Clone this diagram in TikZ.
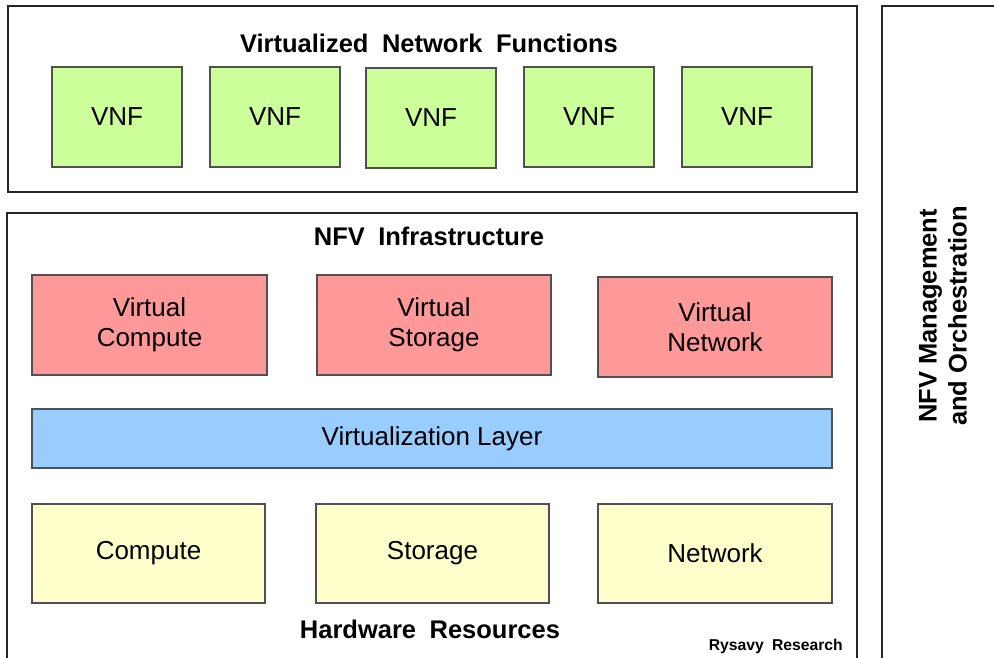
\documentclass[tikz,border=0pt]{standalone}
\usepackage{fontspec}
\setmainfont{Liberation Sans}
\newfontfamily\headfont[WordSpace=1.9]{Liberation Sans}
\usepackage{tikz}
\usetikzlibrary{calc}
\definecolor{vnfgreen}{HTML}{CCFF99}
\definecolor{virtred}{HTML}{FF9999}
\definecolor{layerblue}{HTML}{99CCFF}
\definecolor{hwyellow}{HTML}{FFFFCC}
\definecolor{edgegray}{HTML}{505050}
\tikzset{
  frame/.style={draw=black!85,line width=2.6pt},
  block/.style={draw=edgegray,line width=1.3pt,align=center,inner sep=0pt,
    font=\fontsize{26}{30}\selectfont},
  heading/.style={font=\headfont\bfseries\fontsize{25.5}{30}\selectfont,inner sep=0pt}
}
\newcommand{\fnblock}[7]{\node[block,fill=#1,minimum width=#5pt,minimum height=#6pt] (#2) at ( #3 , #4 ) {#7};}

\begin{document}
\begin{tikzpicture}[x=1pt,y=-1pt]
\clip (0,0) rectangle (994,658);
\fill[white] (0,0) rectangle (994,658);
% outer frames
\draw[frame] (8,6) rectangle (857,192);
\draw[frame] (7,213) rectangle (857,680);
\draw[frame] (882,6) rectangle (1020,680);
% row of VNFs
\node[heading] (vnftitle) at (429,43) {Virtualized Network Functions};
\fnblock{vnfgreen}{vnfa}{117}{117}{130}{100}{VNF}
\fnblock{vnfgreen}{vnfb}{275}{117}{130}{100}{VNF}
\fnblock{vnfgreen}{vnfc}{431}{118}{130}{100}{VNF}
\fnblock{vnfgreen}{vnfd}{589}{117}{130}{100}{VNF}
\fnblock{vnfgreen}{vnfe}{747}{117}{130}{100}{VNF}
% virtual resources
\node[heading] (nfvititle) at (429,236) {NFV Infrastructure};
\fnblock{virtred}{vcompute}{149.5}{325}{235}{100}{Virtual\\Compute}
\fnblock{virtred}{vstorage}{434}{325}{234}{100}{Virtual\\Storage}
\fnblock{virtred}{vnetwork}{715}{327}{234}{100}{Virtual\\Network}
% virtualization layer
\fnblock{layerblue}{vlayer}{432}{438.5}{800}{59}{Virtualization Layer}
% hardware resources
\fnblock{hwyellow}{compute}{148.5}{553.5}{233}{99}{Compute}
\fnblock{hwyellow}{storage}{432.5}{553.5}{233}{99}{Storage}
\fnblock{hwyellow}{network}{715}{553.5}{234}{99}{Network}
\node[heading] (hwtitle) at (430,629) {Hardware Resources};
\node[font=\headfont\bfseries\fontsize{15.7}{18}\selectfont,anchor=base east,inner sep=0pt] (credit) at (843,650) {Rysavy Research};
% management and orchestration
\node[heading,rotate=90,align=center,font=\bfseries\fontsize{25.5}{30}\selectfont] (mano) at (943,316) {NFV Management\\and Orchestration};
\end{tikzpicture}
\end{document}
